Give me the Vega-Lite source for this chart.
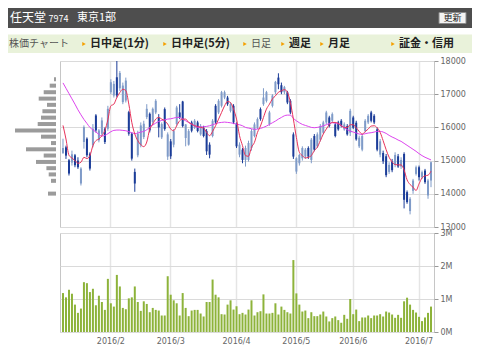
{
  "$schema": "https://vega.github.io/schema/vega-lite/v6.json",
  "background": "white",
  "padding": {"left": 7, "top": 7, "right": 2, "bottom": 2},
  "bounds": "flush",
  "spacing": 8,
  "datasets": {
    "px": [
      {"d":"2016-01-07","o":15230,"h":15660,"l":15200,"c":15380,"v":1.18,"m5":16060,"m25":17340},
      {"d":"2016-01-08","o":15400,"h":15450,"l":15050,"c":15150,"v":1.05,"m5":15650,"m25":17180},
      {"d":"2016-01-12","o":15010,"h":15050,"l":14550,"c":14610,"v":1.28,"m5":15160,"m25":17020},
      {"d":"2016-01-13","o":14940,"h":15300,"l":14850,"c":15190,"v":1.16,"m5":15080,"m25":16860},
      {"d":"2016-01-14","o":15160,"h":15200,"l":14800,"c":14860,"v":0.83,"m5":15000,"m25":16700},
      {"d":"2016-01-15","o":15000,"h":15100,"l":14750,"c":14800,"v":0.58,"m5":14920,"m25":16530},
      {"d":"2016-01-18","o":14310,"h":14800,"l":14250,"c":14760,"v":0.71,"m5":14950,"m25":16380},
      {"d":"2016-01-19","o":15560,"h":16060,"l":15360,"c":16010,"v":1.51,"m5":15100,"m25":16240},
      {"d":"2016-01-20","o":15660,"h":15700,"l":15100,"c":15160,"v":1.48,"m5":15060,"m25":16120},
      {"d":"2016-01-21","o":15210,"h":15250,"l":14700,"c":14760,"v":1.21,"m5":15150,"m25":16000},
      {"d":"2016-01-22","o":15460,"h":16100,"l":15400,"c":15960,"v":1.31,"m5":15450,"m25":15930},
      {"d":"2016-01-25","o":16360,"h":16400,"l":15850,"c":15910,"v":0.81,"m5":15600,"m25":15860},
      {"d":"2016-01-26","o":15610,"h":15950,"l":15550,"c":15910,"v":1.10,"m5":15650,"m25":15790},
      {"d":"2016-01-27","o":15810,"h":16300,"l":15750,"c":16210,"v":0.91,"m5":15750,"m25":15740},
      {"d":"2016-01-28","o":15960,"h":16000,"l":15500,"c":15560,"v":0.67,"m5":15910,"m25":15760},
      {"d":"2016-01-29","o":15960,"h":16650,"l":15900,"c":16560,"v":1.61,"m5":16230,"m25":15810},
      {"d":"2016-02-01","o":17060,"h":17450,"l":17000,"c":17360,"v":0.87,"m5":16650,"m25":15870},
      {"d":"2016-02-02","o":16960,"h":17400,"l":16900,"c":17310,"v":0.77,"m5":16700,"m25":15910},
      {"d":"2016-02-03","o":17510,"h":18000,"l":16900,"c":16960,"v":1.73,"m5":16900,"m25":15920},
      {"d":"2016-02-04","o":17180,"h":17700,"l":17100,"c":17640,"v":1.38,"m5":17050,"m25":15920},
      {"d":"2016-02-05","o":16760,"h":17350,"l":16700,"c":17260,"v":0.73,"m5":17150,"m25":15910},
      {"d":"2016-02-08","o":16810,"h":17500,"l":16750,"c":17410,"v":0.69,"m5":17110,"m25":15900},
      {"d":"2016-02-09","o":16460,"h":16500,"l":15750,"c":15810,"v":1.02,"m5":16700,"m25":15870},
      {"d":"2016-02-10","o":15810,"h":15850,"l":15000,"c":15060,"v":1.05,"m5":16150,"m25":15840},
      {"d":"2016-02-12","o":14660,"h":14760,"l":14060,"c":14310,"v":1.38,"m5":15800,"m25":15810},
      {"d":"2016-02-15","o":15160,"h":15900,"l":15100,"c":15810,"v":0.91,"m5":15600,"m25":15830},
      {"d":"2016-02-16","o":15460,"h":16150,"l":15400,"c":16060,"v":0.64,"m5":15480,"m25":15860},
      {"d":"2016-02-17","o":15710,"h":16200,"l":15650,"c":16110,"v":0.93,"m5":15420,"m25":15880},
      {"d":"2016-02-18","o":16310,"h":16700,"l":16250,"c":16560,"v":0.85,"m5":15560,"m25":15930},
      {"d":"2016-02-19","o":16410,"h":16450,"l":15850,"c":15910,"v":0.60,"m5":15950,"m25":16000},
      {"d":"2016-02-22","o":16160,"h":16600,"l":16100,"c":16560,"v":0.73,"m5":16100,"m25":16070},
      {"d":"2016-02-23","o":16450,"h":16850,"l":16400,"c":16800,"v":0.67,"m5":16250,"m25":16130},
      {"d":"2016-02-24","o":16300,"h":16400,"l":15700,"c":16000,"v":0.65,"m5":16300,"m25":16180},
      {"d":"2016-02-25","o":15700,"h":16150,"l":15650,"c":16100,"v":0.50,"m5":16250,"m25":16210},
      {"d":"2016-02-26","o":16550,"h":16600,"l":15900,"c":15950,"v":0.50,"m5":16200,"m25":16230},
      {"d":"2016-02-29","o":15120,"h":15850,"l":15020,"c":15790,"v":1.69,"m5":16100,"m25":16250},
      {"d":"2016-03-01","o":15580,"h":15650,"l":15050,"c":15130,"v":1.13,"m5":15950,"m25":16260},
      {"d":"2016-03-02","o":15480,"h":15950,"l":15400,"c":15890,"v":0.96,"m5":15900,"m25":16280},
      {"d":"2016-03-03","o":16100,"h":16650,"l":16050,"c":16600,"v":0.87,"m5":16050,"m25":16300},
      {"d":"2016-03-04","o":16450,"h":16700,"l":16250,"c":16300,"v":0.50,"m5":16200,"m25":16300},
      {"d":"2016-03-07","o":16780,"h":16800,"l":16000,"c":16040,"v":1.18,"m5":16250,"m25":16250},
      {"d":"2016-03-08","o":15680,"h":16100,"l":15430,"c":16090,"v":0.73,"m5":16250,"m25":16200},
      {"d":"2016-03-09","o":15480,"h":15950,"l":15450,"c":15890,"v":0.48,"m5":16150,"m25":16150},
      {"d":"2016-03-10","o":16150,"h":16200,"l":15850,"c":15900,"v":0.65,"m5":16100,"m25":16100},
      {"d":"2016-03-11","o":15990,"h":16250,"l":15950,"c":16200,"v":0.67,"m5":16050,"m25":16050},
      {"d":"2016-03-14","o":16150,"h":16200,"l":15850,"c":15890,"v":0.67,"m5":16030,"m25":16000},
      {"d":"2016-03-15","o":15790,"h":16100,"l":15750,"c":16040,"v":0.56,"m5":16000,"m25":16010},
      {"d":"2016-03-16","o":15990,"h":16050,"l":15700,"c":15740,"v":0.47,"m5":15980,"m25":16020},
      {"d":"2016-03-17","o":15890,"h":15950,"l":15170,"c":15280,"v":0.91,"m5":15850,"m25":16030},
      {"d":"2016-03-18","o":15480,"h":15550,"l":15070,"c":15180,"v":0.91,"m5":15750,"m25":16050},
      {"d":"2016-03-22","o":15740,"h":16250,"l":15700,"c":16200,"v":1.59,"m5":15880,"m25":16080},
      {"d":"2016-03-23","o":16650,"h":16700,"l":16100,"c":16150,"v":1.13,"m5":16050,"m25":16110},
      {"d":"2016-03-24","o":16450,"h":16850,"l":16400,"c":16800,"v":1.05,"m5":16250,"m25":16140},
      {"d":"2016-03-25","o":16650,"h":17100,"l":16600,"c":17060,"v":0.54,"m5":16450,"m25":16150},
      {"d":"2016-03-28","o":16900,"h":17110,"l":16850,"c":17060,"v":0.53,"m5":16650,"m25":16160},
      {"d":"2016-03-29","o":16900,"h":16950,"l":16650,"c":16700,"v":0.83,"m5":16780,"m25":16150},
      {"d":"2016-03-30","o":16500,"h":16750,"l":16450,"c":16700,"v":0.96,"m5":16750,"m25":16140},
      {"d":"2016-03-31","o":16650,"h":16700,"l":16100,"c":16150,"v":0.68,"m5":16550,"m25":16120},
      {"d":"2016-04-01","o":16100,"h":16150,"l":15380,"c":15430,"v":0.78,"m5":16250,"m25":16100},
      {"d":"2016-04-04","o":15180,"h":15550,"l":15100,"c":15480,"v":0.54,"m5":15750,"m25":16080},
      {"d":"2016-04-05","o":15330,"h":15380,"l":14920,"c":15020,"v":0.58,"m5":15450,"m25":16050},
      {"d":"2016-04-06","o":15020,"h":15450,"l":14820,"c":15380,"v":0.53,"m5":15150,"m25":16000},
      {"d":"2016-04-07","o":15020,"h":15600,"l":14970,"c":15530,"v":0.68,"m5":15130,"m25":15980},
      {"d":"2016-04-08","o":15380,"h":15950,"l":15300,"c":15890,"v":0.96,"m5":15400,"m25":15960},
      {"d":"2016-04-11","o":15740,"h":16150,"l":15700,"c":16090,"v":0.50,"m5":15550,"m25":15940},
      {"d":"2016-04-12","o":15990,"h":16300,"l":15950,"c":16250,"v":0.60,"m5":15850,"m25":15950},
      {"d":"2016-04-13","o":16550,"h":16600,"l":16200,"c":16250,"v":0.63,"m5":16040,"m25":15970},
      {"d":"2016-04-14","o":16700,"h":17180,"l":16650,"c":16900,"v":1.14,"m5":16300,"m25":16000},
      {"d":"2016-04-15","o":16800,"h":17100,"l":16750,"c":17060,"v":0.56,"m5":16550,"m25":16040},
      {"d":"2016-04-18","o":16100,"h":16500,"l":16050,"c":16450,"v":0.56,"m5":16700,"m25":16090},
      {"d":"2016-04-19","o":16650,"h":17000,"l":16600,"c":16960,"v":0.58,"m5":16860,"m25":16140},
      {"d":"2016-04-20","o":17060,"h":17400,"l":17000,"c":17370,"v":0.87,"m5":16950,"m25":16190},
      {"d":"2016-04-21","o":17500,"h":17630,"l":17150,"c":17300,"v":0.53,"m5":17060,"m25":16250},
      {"d":"2016-04-22","o":17270,"h":17350,"l":17000,"c":17060,"v":0.77,"m5":17100,"m25":16300},
      {"d":"2016-04-25","o":17060,"h":17250,"l":17000,"c":17210,"v":0.67,"m5":17140,"m25":16350},
      {"d":"2016-04-26","o":17060,"h":17100,"l":16700,"c":16750,"v":0.60,"m5":17060,"m25":16370},
      {"d":"2016-04-27","o":16800,"h":16850,"l":16400,"c":16450,"v":0.56,"m5":16750,"m25":16370},
      {"d":"2016-04-28","o":15790,"h":15850,"l":15050,"c":15120,"v":2.18,"m5":16250,"m25":16270},
      {"d":"2016-05-02","o":14670,"h":15100,"l":14600,"c":15070,"v":1.17,"m5":15700,"m25":16200},
      {"d":"2016-05-06","o":14920,"h":15200,"l":14850,"c":15170,"v":0.83,"m5":15250,"m25":16140},
      {"d":"2016-05-09","o":15070,"h":15430,"l":15000,"c":15380,"v":0.62,"m5":15150,"m25":16090},
      {"d":"2016-05-10","o":15120,"h":15380,"l":15050,"c":15330,"v":0.65,"m5":15080,"m25":16060},
      {"d":"2016-05-11","o":15380,"h":15430,"l":15050,"c":15120,"v":0.42,"m5":15100,"m25":16030},
      {"d":"2016-05-12","o":15020,"h":15680,"l":14920,"c":15630,"v":0.60,"m5":15150,"m25":16000},
      {"d":"2016-05-13","o":15740,"h":15800,"l":15280,"c":15330,"v":0.48,"m5":15300,"m25":15990},
      {"d":"2016-05-16","o":15430,"h":15850,"l":15380,"c":15790,"v":0.48,"m5":15400,"m25":16000},
      {"d":"2016-05-17","o":15630,"h":16100,"l":15580,"c":16040,"v":0.53,"m5":15600,"m25":16020},
      {"d":"2016-05-18","o":15840,"h":16200,"l":15800,"c":16150,"v":0.62,"m5":15800,"m25":16050},
      {"d":"2016-05-19","o":16150,"h":16500,"l":16100,"c":16450,"v":0.47,"m5":15950,"m25":16080},
      {"d":"2016-05-20","o":16300,"h":16350,"l":16000,"c":16040,"v":0.32,"m5":16080,"m25":16120},
      {"d":"2016-05-23","o":16200,"h":16450,"l":16150,"c":16400,"v":0.42,"m5":16150,"m25":16140},
      {"d":"2016-05-24","o":16090,"h":16150,"l":15700,"c":15740,"v":0.47,"m5":16150,"m25":16130},
      {"d":"2016-05-25","o":16150,"h":16200,"l":15900,"c":15940,"v":0.36,"m5":16120,"m25":16110},
      {"d":"2016-05-26","o":16200,"h":16250,"l":16000,"c":16050,"v":0.28,"m5":16050,"m25":16060},
      {"d":"2016-05-27","o":15940,"h":16150,"l":15900,"c":16090,"v":0.52,"m5":16000,"m25":15990},
      {"d":"2016-05-30","o":16040,"h":16100,"l":15750,"c":15790,"v":0.40,"m5":16000,"m25":15930},
      {"d":"2016-05-31","o":15840,"h":16560,"l":15740,"c":16500,"v":1.00,"m5":16080,"m25":15890},
      {"d":"2016-06-01","o":16300,"h":16350,"l":15950,"c":15990,"v":0.54,"m5":16080,"m25":15860},
      {"d":"2016-06-02","o":16140,"h":16200,"l":15600,"c":15640,"v":0.68,"m5":15990,"m25":15830},
      {"d":"2016-06-03","o":15430,"h":15750,"l":15380,"c":15690,"v":0.33,"m5":15880,"m25":15800},
      {"d":"2016-06-06","o":15330,"h":15800,"l":15280,"c":15740,"v":0.44,"m5":15800,"m25":15790},
      {"d":"2016-06-07","o":15890,"h":16250,"l":15850,"c":16200,"v":0.44,"m5":15870,"m25":15810},
      {"d":"2016-06-08","o":16150,"h":16400,"l":16100,"c":16350,"v":0.50,"m5":15950,"m25":15830},
      {"d":"2016-06-09","o":16450,"h":16500,"l":16150,"c":16200,"v":0.42,"m5":16040,"m25":15840},
      {"d":"2016-06-10","o":16350,"h":16400,"l":16100,"c":16150,"v":0.50,"m5":16050,"m25":15860},
      {"d":"2016-06-13","o":15940,"h":16000,"l":15280,"c":15330,"v":0.50,"m5":15990,"m25":15880},
      {"d":"2016-06-14","o":15180,"h":15650,"l":15100,"c":15580,"v":0.54,"m5":15850,"m25":15880},
      {"d":"2016-06-15","o":15230,"h":15300,"l":14900,"c":14980,"v":0.47,"m5":15600,"m25":15860},
      {"d":"2016-06-16","o":15130,"h":15200,"l":14500,"c":14560,"v":0.62,"m5":15330,"m25":15820},
      {"d":"2016-06-17","o":14660,"h":14950,"l":14600,"c":14870,"v":0.59,"m5":15100,"m25":15760},
      {"d":"2016-06-20","o":14970,"h":15050,"l":14650,"c":14710,"v":0.53,"m5":14960,"m25":15710},
      {"d":"2016-06-21","o":14870,"h":15250,"l":14800,"c":15170,"v":0.43,"m5":14880,"m25":15670},
      {"d":"2016-06-22","o":15130,"h":15200,"l":14780,"c":14820,"v":0.52,"m5":14870,"m25":15620},
      {"d":"2016-06-23","o":14820,"h":15100,"l":14750,"c":15020,"v":0.43,"m5":14870,"m25":15580},
      {"d":"2016-06-24","o":15200,"h":15250,"l":13560,"c":13820,"v":0.93,"m5":14720,"m25":15520},
      {"d":"2016-06-27","o":14050,"h":14100,"l":13700,"c":13750,"v":1.04,"m5":14420,"m25":15460},
      {"d":"2016-06-28","o":13480,"h":13900,"l":13380,"c":13850,"v":0.83,"m5":14280,"m25":15400},
      {"d":"2016-06-29","o":14090,"h":14450,"l":14000,"c":14400,"v":0.67,"m5":14200,"m25":15340},
      {"d":"2016-06-30","o":14600,"h":14850,"l":14550,"c":14800,"v":0.59,"m5":14100,"m25":15280},
      {"d":"2016-07-01","o":14800,"h":14850,"l":14400,"c":14500,"v":0.46,"m5":14300,"m25":15210},
      {"d":"2016-07-04","o":14500,"h":14700,"l":14450,"c":14650,"v":0.33,"m5":14480,"m25":15150},
      {"d":"2016-07-05","o":14700,"h":14750,"l":14300,"c":14350,"v":0.44,"m5":14540,"m25":15100},
      {"d":"2016-07-06","o":13950,"h":14450,"l":13850,"c":14400,"v":0.58,"m5":14560,"m25":15060},
      {"d":"2016-07-07","o":14400,"h":14970,"l":14200,"c":14950,"v":0.77,"m5":14680,"m25":15020}
    ],
    "hist": [
      {"p":17575,"w":2},{"p":17370,"w":6.3},{"p":17160,"w":12.3},{"p":16955,"w":17.3},
      {"p":16755,"w":9},{"p":16550,"w":13.6},{"p":16345,"w":15},{"p":16140,"w":18.3},
      {"p":15935,"w":41},{"p":15735,"w":15},{"p":15530,"w":5},{"p":15330,"w":30},
      {"p":15130,"w":12.3},{"p":14925,"w":20},{"p":14725,"w":9.6},{"p":14525,"w":7.3},
      {"p":14320,"w":5},{"p":13910,"w":8}
    ]
  },
  "vconcat": [
    {
      "width": 464,
      "height": 45,
      "view": {"stroke": null},
      "data": {"values": [{}]},
      "layer": [
        {"mark": {"type": "rect", "x": 0, "x2": 464, "y": 0, "y2": 20, "fill": "#4e4e4e"}, "encoding": {}},
        {"mark": {"type": "text", "text": "任天堂", "x": 2, "y": 10, "align": "left", "baseline": "middle", "fontSize": 12, "fill": "#ffffff", "font": "Noto Sans CJK JP"}, "encoding": {}},
        {"mark": {"type": "text", "text": "7974", "x": 40.5, "y": 10.5, "align": "left", "baseline": "middle", "fontSize": 9, "fill": "#ffffff", "font": "Noto Sans CJK JP"}, "encoding": {}},
        {"mark": {"type": "text", "text": "東京1部", "x": 69, "y": 10, "align": "left", "baseline": "middle", "fontSize": 11, "fill": "#ffffff", "font": "Noto Sans CJK JP"}, "encoding": {}},
        {"mark": {"type": "rect", "x": 431, "x2": 458, "y": 4.5, "y2": 15.5, "fill": "#f3f3f3", "stroke": "#8a8a8a", "strokeWidth": 1}, "encoding": {}},
        {"mark": {"type": "text", "text": "更新", "x": 444.5, "y": 10, "align": "center", "baseline": "middle", "fontSize": 9, "fill": "#222222", "font": "Noto Sans CJK JP"}, "encoding": {}},
        {"mark": {"type": "rect", "x": 0, "x2": 464, "y": 26.5, "y2": 45, "fill": "#e9f2da"}, "encoding": {}},
        {"mark": {"type": "rule", "x": 0, "x2": 464, "y": 26.5, "y2": 26.5, "stroke": "#ccd6bc", "strokeWidth": 1}, "encoding": {}},
        {"mark": {"type": "text", "text": "株価チャート", "x": 1, "y": 36, "align": "left", "baseline": "middle", "fontSize": 10, "fill": "#555555", "font": "Noto Sans CJK JP"}, "encoding": {}},
        {"mark": {"type": "point", "shape": "triangle-right", "x": 76, "y": 36, "size": 16, "filled": true, "fill": "#f5a000", "opacity": 1}, "encoding": {}},
        {"mark": {"type": "point", "shape": "triangle-right", "x": 157, "y": 36, "size": 16, "filled": true, "fill": "#f5a000", "opacity": 1}, "encoding": {}},
        {"mark": {"type": "point", "shape": "triangle-right", "x": 237, "y": 36, "size": 16, "filled": true, "fill": "#f5a000", "opacity": 1}, "encoding": {}},
        {"mark": {"type": "point", "shape": "triangle-right", "x": 275, "y": 36, "size": 16, "filled": true, "fill": "#f5a000", "opacity": 1}, "encoding": {}},
        {"mark": {"type": "point", "shape": "triangle-right", "x": 314, "y": 36, "size": 16, "filled": true, "fill": "#f5a000", "opacity": 1}, "encoding": {}},
        {"mark": {"type": "point", "shape": "triangle-right", "x": 385, "y": 36, "size": 16, "filled": true, "fill": "#f5a000", "opacity": 1}, "encoding": {}},
        {"mark": {"type": "text", "text": "日中足(1分)", "x": 82, "y": 36, "align": "left", "baseline": "middle", "fontSize": 11, "fontWeight": "bold", "fill": "#222222", "font": "Noto Sans CJK JP"}, "encoding": {}},
        {"mark": {"type": "text", "text": "日中足(5分)", "x": 163, "y": 36, "align": "left", "baseline": "middle", "fontSize": 11, "fontWeight": "bold", "fill": "#222222", "font": "Noto Sans CJK JP"}, "encoding": {}},
        {"mark": {"type": "text", "text": "日足", "x": 243, "y": 36, "align": "left", "baseline": "middle", "fontSize": 10, "fill": "#555555", "font": "Noto Sans CJK JP"}, "encoding": {}},
        {"mark": {"type": "text", "text": "週足", "x": 281, "y": 36, "align": "left", "baseline": "middle", "fontSize": 11, "fontWeight": "bold", "fill": "#222222", "font": "Noto Sans CJK JP"}, "encoding": {}},
        {"mark": {"type": "text", "text": "月足", "x": 320, "y": 36, "align": "left", "baseline": "middle", "fontSize": 11, "fontWeight": "bold", "fill": "#222222", "font": "Noto Sans CJK JP"}, "encoding": {}},
        {"mark": {"type": "text", "text": "証金・信用", "x": 391, "y": 36, "align": "left", "baseline": "middle", "fontSize": 11, "fontWeight": "bold", "fill": "#222222", "font": "Noto Sans CJK JP"}, "encoding": {}},
        {"mark": {"type": "rule", "x": 82, "x2": 141, "y": 43.5, "y2": 43.5, "stroke": "#222222", "strokeWidth": 1}, "encoding": {}},
        {"mark": {"type": "rule", "x": 163, "x2": 221, "y": 43.5, "y2": 43.5, "stroke": "#222222", "strokeWidth": 1}, "encoding": {}},
        {"mark": {"type": "rule", "x": 281, "x2": 304, "y": 43.5, "y2": 43.5, "stroke": "#222222", "strokeWidth": 1}, "encoding": {}},
        {"mark": {"type": "rule", "x": 320, "x2": 343, "y": 43.5, "y2": 43.5, "stroke": "#222222", "strokeWidth": 1}, "encoding": {}},
        {"mark": {"type": "rule", "x": 391, "x2": 441, "y": 43.5, "y2": 43.5, "stroke": "#222222", "strokeWidth": 1}, "encoding": {}}
      ]
    },
    {
      "bounds": "flush",
      "spacing": 4,
      "hconcat": [
        {
          "width": 48,
          "height": 166,
          "view": {"stroke": null},
          "data": {"name": "hist"},
          "mark": {"type": "bar", "orient": "horizontal", "size": 4, "color": "#9b9b9b"},
          "encoding": {
            "x": {"field": "w", "type": "quantitative", "scale": {"domain": [0, 48], "nice": false, "reverse": true}, "axis": null},
            "y": {"field": "p", "type": "quantitative", "scale": {"domain": [13000, 18000], "nice": false, "zero": false}, "axis": null}
          }
        },
        {
          "bounds": "flush",
          "spacing": 6,
          "vconcat": [
            {
              "width": 374,
              "height": 166,
              "data": {"name": "px"},
              "encoding": {
                "x": {
                  "field": "d", "type": "ordinal", "sort": null,
                  "scale": {"paddingInner": 0, "paddingOuter": 0.5},
                  "axis": {"values": ["2016-02-01","2016-03-01","2016-04-01","2016-05-02","2016-06-01","2016-07-01"], "labels": false, "ticks": false, "title": null, "grid": true, "gridWidth": 1.5, "gridColor": "#e5e5e5"}
                }
              },
              "layer": [
                {
                  "mark": {"type": "rule", "strokeWidth": 1},
                  "encoding": {
                    "y": {"field": "l", "type": "quantitative", "scale": {"domain": [13000, 18000], "nice": false, "zero": false},
                      "axis": {"orient": "right", "values": [13000,14000,15000,16000,17000,18000], "format": "d", "title": null, "tickSize": 4, "labelPadding": 2, "labelOverlap": false, "grid": true, "gridColor": "#dadada"}},
                    "y2": {"field": "h"},
                    "color": {"condition": {"test": "datum.c >= datum.o", "value": "#7f9bc8"}, "value": "#1b3c98"}
                  }
                },
                {
                  "mark": {"type": "bar", "size": 2},
                  "encoding": {
                    "y": {"field": "o", "type": "quantitative", "axis": {"orient": "right", "values": [13000,14000,15000,16000,17000,18000], "format": "d", "title": null, "tickSize": 4, "labelPadding": 2, "labelOverlap": false, "grid": true, "gridColor": "#dadada"}},
                    "y2": {"field": "c"},
                    "color": {"condition": {"test": "datum.c >= datum.o", "value": "#7f9bc8"}, "value": "#1b3c98"}
                  }
                },
                {
                  "mark": {"type": "line", "color": "#dd44ee", "strokeWidth": 1, "interpolate": "monotone"},
                  "encoding": {"y": {"field": "m25", "type": "quantitative", "axis": {"orient": "right", "values": [13000,14000,15000,16000,17000,18000], "format": "d", "title": null, "tickSize": 4, "labelPadding": 2, "labelOverlap": false, "grid": true, "gridColor": "#dadada"}}}
                },
                {
                  "mark": {"type": "line", "color": "#e8325a", "strokeWidth": 1, "interpolate": "monotone"},
                  "encoding": {"y": {"field": "m5", "type": "quantitative", "axis": {"orient": "right", "values": [13000,14000,15000,16000,17000,18000], "format": "d", "title": null, "tickSize": 4, "labelPadding": 2, "labelOverlap": false, "grid": true, "gridColor": "#dadada"}}}
                }
              ]
            },
            {
              "width": 374,
              "height": 99,
              "data": {"name": "px"},
              "mark": {"type": "bar", "size": 2, "color": "#8db33a"},
              "encoding": {
                "x": {
                  "field": "d", "type": "ordinal", "sort": null,
                  "scale": {"paddingInner": 0, "paddingOuter": 0.5},
                  "axis": {"values": ["2016-02-01","2016-03-01","2016-04-01","2016-05-02","2016-06-01","2016-07-01"], "labelExpr": "substring(datum.value,0,4) + '/' + toNumber(substring(datum.value,5,7))", "labelAngle": 0, "ticks": false, "title": null, "grid": true, "gridWidth": 1.5, "gridColor": "#e5e5e5", "labelPadding": 5}
                },
                "y": {
                  "field": "v", "type": "quantitative",
                  "scale": {"domain": [0, 3], "nice": false},
                  "axis": {"orient": "right", "values": [0, 1, 2, 3], "labelExpr": "datum.value + 'M'", "title": null, "tickSize": 4, "labelPadding": 2, "labelOverlap": false, "grid": true, "gridColor": "#dadada"}
                }
              }
            }
          ]
        }
      ]
    }
  ],
  "config": {
    "font": "DejaVu Sans",
    "view": {"stroke": "#c6c6c6", "strokeWidth": 1},
    "axis": {"labelFont": "DejaVu Sans", "labelFontSize": 8, "labelColor": "#666666", "tickColor": "#999999", "domain": false, "labelOverlap": false}
  }
}
